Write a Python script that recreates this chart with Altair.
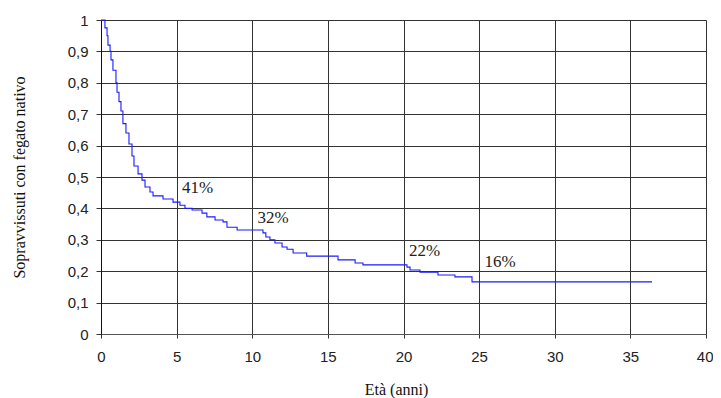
import altair as alt
import pandas as pd

# Kaplan-Meier style survival curve
years = [0.0, 0.13, 0.26, 0.40, 0.46, 0.60, 0.66, 0.79, 0.99, 1.06, 1.19, 1.32,
         1.45, 1.65, 1.85, 2.05, 2.18, 2.45, 2.71, 2.91, 3.24, 3.44, 4.10, 4.76,
         5.22, 5.55, 6.02, 6.68, 7.00, 7.54, 8.07, 8.33, 9.00, 10.71, 10.90,
         11.17, 11.50, 11.97, 12.30, 12.70, 13.60, 15.67, 16.80, 17.32, 20.23,
         20.43, 21.09, 22.28, 23.40, 24.53, 36.43]
survival = [1.0, 1.0, 0.975, 0.95, 0.92, 0.90, 0.873, 0.84, 0.80, 0.77, 0.74, 0.71,
            0.67, 0.64, 0.605, 0.567, 0.535, 0.51, 0.49, 0.468, 0.452, 0.44, 0.43, 0.42,
            0.41, 0.40, 0.395, 0.385, 0.373, 0.363, 0.357, 0.34, 0.331, 0.322, 0.309,
            0.30, 0.29, 0.277, 0.27, 0.258, 0.248, 0.236, 0.226, 0.22, 0.213,
            0.204, 0.197, 0.188, 0.182, 0.166, 0.166]

label_text = ["41%", "32%", "22%", "16%"]
label_x = [6.38, 11.37, 21.39, 26.38]
label_y = [0.465, 0.371, 0.263, 0.228]

x_ticks = [0, 5, 10, 15, 20, 25, 30, 35, 40]
y_ticks = [0, 0.1, 0.2, 0.3, 0.4, 0.5, 0.6, 0.7, 0.8, 0.9, 1.0]

curve = pd.DataFrame({"anni": years, "sopr": survival})
labels = pd.DataFrame({"t": label_text, "x": label_x, "y": label_y})

xscale = alt.Scale(domain=[0, 40], nice=False, zero=False)
yscale = alt.Scale(domain=[0, 1], nice=False)

x_axis = alt.Axis(
    values=x_ticks, title="Età (anni)", grid=True, gridColor="#333333", gridWidth=1,
    domainColor="#555555", tickColor="#333333", tickSize=4, labelPadding=11,
    labelOverlap=False, labelFlush=False, labelBound=False,
    labelAlign={"condition": {"test": "datum.value == 40", "value": "right"}, "value": "center"},
    labelOffset={"condition": {"test": "datum.value == 40", "value": 7}, "value": 0},
    labelFont="Liberation Sans", labelFontSize=15, labelColor="#222222",
    titleFont="Liberation Serif", titleFontSize=16, titleFontWeight="normal",
    titleColor="#111111", titleX=295, titleY=60, titleBaseline="alphabetic",
    titleAlign="center",
)
y_axis = alt.Axis(
    values=y_ticks, tickCount=11, title="Sopravvissuti con fegato nativo", grid=True,
    gridColor="#333333", gridWidth=1, domainColor="#111111", tickColor="#333333",
    tickSize=5, labelPadding=8, labelOverlap=False, labelFlush=False, labelBound=False,
    labelExpr="replace(format(datum.value, '.1~f'), '.', ',')",
    labelFont="Liberation Sans", labelFontSize=15, labelColor="#222222",
    titleFont="Liberation Serif", titleFontSize=16, titleFontWeight="normal",
    titleColor="#111111", titleX=-82, titleY=157, titleAngle=-90,
    titleAlign="center", titleBaseline="middle",
)

line = alt.Chart(curve).mark_line(
    interpolate="step-after", color="#1a1aff", strokeWidth=1.1
).encode(
    x=alt.X("anni:Q", scale=xscale, axis=x_axis),
    y=alt.Y("sopr:Q", scale=yscale, axis=y_axis),
)

text = alt.Chart(labels).mark_text(
    font="Liberation Serif", fontSize=17, color="#222222",
    align="center", baseline="middle",
).encode(
    x=alt.X("x:Q", scale=xscale, axis=x_axis),
    y=alt.Y("y:Q", scale=yscale, axis=y_axis),
    text="t:N",
)

chart = (line + text).properties(
    width=605, height=314,
    autosize=alt.AutoSizeParams(type="none"),
    padding={"left": 93, "top": 12, "right": 7, "bottom": 64},
).configure_view(stroke=None)

chart.save("out.html", embed_options={"renderer": "svg", "actions": False})
